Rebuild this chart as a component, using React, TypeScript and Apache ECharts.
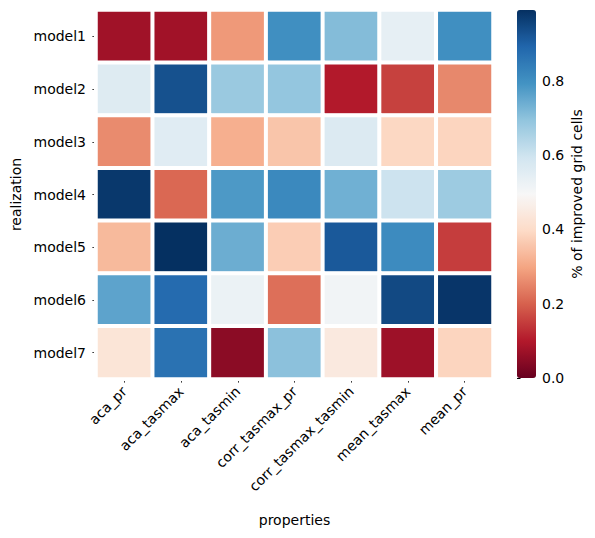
import React, { useEffect, useRef } from "react";
import * as echarts from "echarts";

const properties = ["aca_pr", "aca_tasmax", "aca_tasmin", "corr_tasmax_pr", "corr_tasmax_tasmin", "mean_tasmax", "mean_pr"];
const realizations = ["model1", "model2", "model3", "model4", "model5", "model6", "model7"];

const model1 = [0.075, 0.076, 0.28, 0.8, 0.71, 0.54, 0.8];
const model2 = [0.56, 0.93, 0.68, 0.69, 0.1, 0.155, 0.255];
const model3 = [0.26, 0.555, 0.315, 0.355, 0.565, 0.39, 0.385];
const model4 = [0.975, 0.21, 0.78, 0.815, 0.735, 0.6, 0.675];
const model5 = [0.335, 0.99, 0.74, 0.37, 0.915, 0.81, 0.15];
const model6 = [0.76, 0.88, 0.525, 0.22, 0.51, 0.945, 0.98];
const model7 = [0.43, 0.865, 0.048, 0.7, 0.445, 0.071, 0.385];
const rows = [model1, model2, model3, model4, model5, model6, model7];

const colorbarTicks = [0, 0.2, 0.4, 0.6, 0.8];
const vMin = 0;
const vMax = 0.99;

const RdBu = ["#67001f", "#b2182b", "#d6604d", "#f4a582", "#fddbc7", "#f7f7f7", "#d1e5f0", "#92c5de", "#4393c3", "#2166ac", "#053061"];

const FONT = "DejaVu Sans";
const TXT = "#000";

export default function App() {
  const ref = useRef<HTMLDivElement>(null);
  useEffect(() => {
    if (!ref.current) return;
    const chart = echarts.init(ref.current, null, { renderer: "svg" });
    const data: number[][] = [];
    rows.forEach((r, yi) => r.forEach((v, xi) => data.push([xi, yi, v])));
    chart.setOption({
      animation: false,
      backgroundColor: "#fff",
      textStyle: { fontFamily: FONT },
      grid: [
        { left: 96, top: 10, width: 397, height: 369 },
        { left: 517, top: 10, width: 19, height: 368 },
      ],
      xAxis: [
        {
          type: "category",
          gridIndex: 0,
          data: properties,
          axisLine: { show: false },
          axisTick: { show: true, length: 3.5, alignWithLabel: true, lineStyle: { color: TXT } },
          axisLabel: { rotate: 45, fontSize: 14, color: TXT, fontFamily: FONT, margin: 10, interval: 0 },
          splitLine: { show: false },
          name: "properties",
          nameLocation: "middle",
          nameGap: 134,
          nameTextStyle: { fontSize: 14, color: TXT, fontFamily: FONT, verticalAlign: "top" },
        },
        { type: "value", gridIndex: 1, show: false, min: 0, max: 1 },
      ],
      yAxis: [
        {
          type: "category",
          gridIndex: 0,
          data: realizations,
          inverse: true,
          axisLine: { show: false },
          axisTick: { show: true, length: 3.5, alignWithLabel: true, lineStyle: { color: TXT } },
          axisLabel: { fontSize: 14, color: TXT, fontFamily: FONT, margin: 10, interval: 0 },
          splitLine: { show: false },
          name: "realization",
          nameLocation: "middle",
          nameGap: 72,
          nameRotate: 90,
          nameTextStyle: { fontSize: 14, color: TXT, fontFamily: FONT },
        },
        {
          type: "value",
          gridIndex: 1,
          position: "right",
          min: vMin,
          max: vMax,
          axisLine: { show: false },
          splitLine: { show: false },
          axisTick: { show: true, length: 3.5, customValues: colorbarTicks, lineStyle: { color: TXT } },
          axisLabel: {
            fontSize: 14,
            color: TXT,
            fontFamily: FONT,
            margin: 6,
            customValues: colorbarTicks,
            formatter: (v: number) => v.toFixed(1),
          },
          name: "% of improved grid cells",
          nameLocation: "middle",
          nameGap: 34,
          nameRotate: 90,
          nameTextStyle: { fontSize: 14, color: TXT, fontFamily: FONT },
        },
      ],
      visualMap: {
        type: "continuous",
        min: vMin,
        max: vMax,
        dimension: 2,
        seriesIndex: 0,
        calculable: false,
        orient: "vertical",
        left: 517,
        top: 10,
        padding: 0,
        itemWidth: 19,
        itemHeight: 368,
        text: null,
        inRange: { color: RdBu },
        hoverLink: false,
      },
      series: [
        {
          type: "heatmap",
          xAxisIndex: 0,
          yAxisIndex: 0,
          data,
          itemStyle: { borderColor: "#fff", borderWidth: 4 },
          emphasis: { disabled: true },
        },
        { type: "scatter", xAxisIndex: 1, yAxisIndex: 1, data: [], silent: true },
      ],
    });
    return () => chart.dispose();
  }, []);
  return <div ref={ref} style={{ position: "absolute", left: 0, top: 0, width: 595, height: 538 }} />;
}
